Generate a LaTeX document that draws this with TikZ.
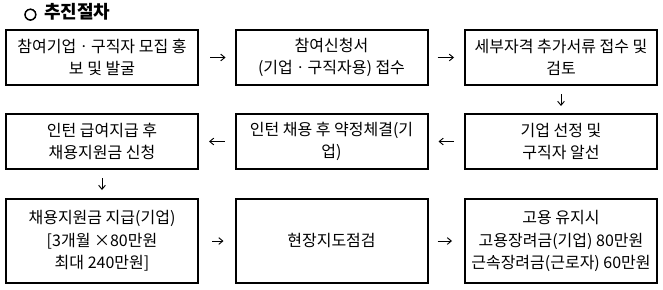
\documentclass[tikz,border=0pt]{standalone}
\usepackage{fontspec}
\setmainfont{Noto Sans CJK KR}
\newfontfamily\symfont[FakeBold=4]{DejaVu Sans}
\usetikzlibrary{arrows.meta, positioning}

\begin{document}
\begin{tikzpicture}[x=0.75pt, y=-0.75pt,
  stepbox/.style={draw, line width=1.5pt, minimum width=144pt, minimum height=41.25pt,
    inner sep=0pt, align=center, font=\fontsize{12}{17}\selectfont},
  tallbox/.style={stepbox, minimum height=63pt},
  flow/.style={-{Straight Barb[length=3pt,width=5pt]}, line width=0.7pt}]
  \useasboundingbox (0,0) rectangle (663,289);
  \node[anchor=west, font=\fontsize{13.5}{15}\bfseries\selectfont] (title) at (19,12)
    {{\symfont\fontsize{11.5}{13}\selectfont ○}\, 추진절차};
  \node[stepbox] (recruit) at (102,57.5) {참여기업ㆍ구직자 모집 홍\\보 및 발굴};
  \node[stepbox] (apply) at (331.5,57.5) {참여신청서\\(기업ㆍ구직자용) 접수};
  \node[stepbox] (review) at (561,57.5) {세부자격 추가서류 접수 및\\검토};
  \node[stepbox] (select) at (561,141.5) {기업 선정 및\\구직자 알선};
  \node[stepbox] (contract) at (331.5,141.5) {인턴 채용 후 약정체결(기\\업)};
  \node[stepbox] (request) at (102,141.5) {인턴 급여지급 후\\채용지원금 신청};
  \node[tallbox] (pay) at (102,241) {채용지원금 지급(기업)\\{[}3개월 ×80만원\\최대 240만원{]}};
  \node[tallbox] (inspect) at (331.5,241) {현장지도점검};
  \node[tallbox] (retain) at (561,241) {고용 유지시\\고용장려금(기업) 80만원\\근속장려금(근로자) 60만원};
  \draw[flow, shorten <=8.25pt, shorten >=6.75pt] (recruit) -- (apply);
  \draw[flow, shorten <=6.75pt, shorten >=7.5pt] (apply) -- (review);
  \draw[flow, shorten <=6pt, shorten >=5.25pt] (review) -- (select);
  \draw[flow, shorten <=7.5pt, shorten >=7.5pt] (select) -- (contract);
  \draw[flow, shorten <=7.5pt, shorten >=7.5pt] (contract) -- (request);
  \draw[flow, shorten <=6pt, shorten >=6pt] (request) -- (pay);
  \draw[flow, shorten <=9.75pt, shorten >=8.25pt] (pay) -- (inspect);
  \draw[flow, shorten <=6.75pt, shorten >=9pt] (inspect) -- (retain);
\end{tikzpicture}
\end{document}
